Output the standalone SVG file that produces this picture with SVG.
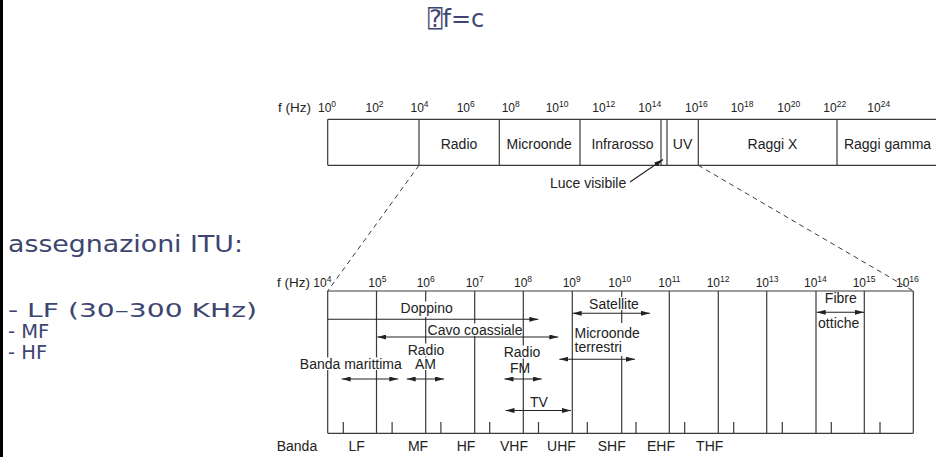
<svg xmlns="http://www.w3.org/2000/svg" width="936" height="457" viewBox="0 0 936 457">
<style>
.ln{stroke:#3a3a3a;stroke-width:1.2;fill:none}
.ds{stroke:#3a3a3a;stroke-width:1;fill:none;stroke-dasharray:5 4}
.ar{stroke:#222;stroke-width:1.1;fill:none}
.lb{font-family:"Liberation Sans",Arial,sans-serif;font-size:14px;fill:#222}
.ax{font-family:"Liberation Sans",Arial,sans-serif;font-size:12px;fill:#222}
.fz{font-family:"Liberation Sans",Arial,sans-serif;font-size:13.5px;fill:#222}
.sp{font-size:8.5px}
.mid{text-anchor:middle}
.bg{fill:#fff}
.sl{font-family:"DejaVu Sans","DejaVu Sans Mono",Verdana,sans-serif;fill:#3d4571}
</style>
<defs>
<marker id="ah" viewBox="0 0 9 5" refX="9" refY="2.5" markerWidth="9" markerHeight="5" orient="auto-start-reverse" markerUnits="userSpaceOnUse"><path d="M0,0 L9,2.5 L0,5 z" fill="#222"/></marker>
</defs>
<rect x="0" y="0" width="3" height="457" fill="#000"/>
<g id="title"><text class="sl" x="428" y="27" font-size="24">⍰f=c</text></g>
<g id="itu-text" class="sl">
<text x="8" y="252" font-size="23" textLength="235" lengthAdjust="spacingAndGlyphs">assegnazioni ITU:</text>
<text x="8" y="316.5" font-size="19.5" textLength="249" lengthAdjust="spacingAndGlyphs">- LF (30–300 KHz)</text>
<text x="8" y="337.5" font-size="19.5">- MF</text>
<text x="8" y="358.5" font-size="19.5">- HF</text>
</g>
<g id="top-spectrum">
<path class="ln" d="M327.7,119.3H936M327.7,165.3H936M327.7,119.3V165.3M419,119.3V165.3M499.3,119.3V165.3M580,119.3V165.3M661,119.3V165.3M667,119.3V165.3M698.3,119.3V165.3M837,119.3V165.3"/>
<text class="fz" x="278" y="112">f (Hz)</text>
<text class="ax" x="318" y="112">10<tspan class="sp" dy="-5">0</tspan></text>
<text class="ax" x="365.5" y="112">10<tspan class="sp" dy="-5">2</tspan></text>
<text class="ax" x="410.5" y="112">10<tspan class="sp" dy="-5">4</tspan></text>
<text class="ax" x="456.7" y="112">10<tspan class="sp" dy="-5">6</tspan></text>
<text class="ax" x="501.7" y="112">10<tspan class="sp" dy="-5">8</tspan></text>
<text class="ax" x="545.7" y="112">10<tspan class="sp" dy="-5">10</tspan></text>
<text class="ax" x="592.3" y="112">10<tspan class="sp" dy="-5">12</tspan></text>
<text class="ax" x="638.3" y="112">10<tspan class="sp" dy="-5">14</tspan></text>
<text class="ax" x="685" y="112">10<tspan class="sp" dy="-5">16</tspan></text>
<text class="ax" x="730.7" y="112">10<tspan class="sp" dy="-5">18</tspan></text>
<text class="ax" x="777.3" y="112">10<tspan class="sp" dy="-5">20</tspan></text>
<text class="ax" x="823.3" y="112">10<tspan class="sp" dy="-5">22</tspan></text>
<text class="ax" x="867.3" y="112">10<tspan class="sp" dy="-5">24</tspan></text>
<text class="lb mid" x="459" y="148.5">Radio</text>
<text class="lb mid" x="539.2" y="148.5">Microonde</text>
<text class="lb mid" x="622.5" y="148.5">Infrarosso</text>
<text class="lb mid" x="682.5" y="148.5">UV</text>
<text class="lb mid" x="772.5" y="148.5">Raggi X</text>
<text class="lb mid" x="887.5" y="148.5">Raggi gamma</text>
<text class="lb" x="550" y="188">Luce visibile</text>
</g>
<g id="bottom-spectrum">
<path class="ln" d="M327.7,291H913.3M327.7,433.3H913.3M327.7,291V433.3M376.5,291V433.3M425.7,291V433.3M474.7,291V433.3M523.3,291V433.3M621.7,291V433.3M669.3,291V433.3M718.3,291V433.3M766.7,291V433.3M816,291V433.3M864.3,291V433.3M913.3,291V433.3"/>
<path class="ln" stroke-width="1.6" d="M572.3,291V433.3"/>
<path class="ln" d="M343.3,422V433.3M392.1,422V433.3M440.9,422V433.3M489.7,422V433.3M538.5,422V433.3M587.3,422V433.3M636,422V433.3M684.7,422V433.3M733.7,422V433.3M782.3,422V433.3M831.3,422V433.3M880,422V433.3"/>
<text class="fz" x="277" y="287">f (Hz)</text>
<text class="ax" x="313.3" y="287">10<tspan class="sp" dy="-5">4</tspan></text>
<text class="ax" x="368.3" y="287">10<tspan class="sp" dy="-5">5</tspan></text>
<text class="ax" x="416.7" y="287">10<tspan class="sp" dy="-5">6</tspan></text>
<text class="ax" x="465.7" y="287">10<tspan class="sp" dy="-5">7</tspan></text>
<text class="ax" x="514" y="287">10<tspan class="sp" dy="-5">8</tspan></text>
<text class="ax" x="562.7" y="287">10<tspan class="sp" dy="-5">9</tspan></text>
<text class="ax" x="608.3" y="287">10<tspan class="sp" dy="-5">10</tspan></text>
<text class="ax" x="658.3" y="287">10<tspan class="sp" dy="-5">11</tspan></text>
<text class="ax" x="706.7" y="287">10<tspan class="sp" dy="-5">12</tspan></text>
<text class="ax" x="755.7" y="287">10<tspan class="sp" dy="-5">13</tspan></text>
<text class="ax" x="804" y="287">10<tspan class="sp" dy="-5">14</tspan></text>
<text class="ax" x="852.7" y="287">10<tspan class="sp" dy="-5">15</tspan></text>
<text class="ax" x="896" y="287">10<tspan class="sp" dy="-5">16</tspan></text>
<rect class="bg" x="399" y="301.5" width="56" height="15.5"/>
<rect class="bg" x="428.5" y="323.5" width="93" height="12.5"/>
<rect class="bg" x="407" y="343.5" width="38" height="13"/>
<rect class="bg" x="414" y="357.5" width="22" height="12.5"/>
<rect class="bg" x="297" y="357.5" width="107" height="12.5"/>
<rect class="bg" x="502" y="345.5" width="41" height="13"/>
<rect class="bg" x="587" y="297" width="54" height="13"/>
<rect class="bg" x="573.5" y="323" width="68" height="33"/>
<text class="lb mid" x="426.7" y="313">Doppino</text>
<text class="lb mid" x="475" y="334.5">Cavo coassiale</text>
<text class="lb mid" x="426" y="354.5">Radio</text>
<text class="lb mid" x="425.5" y="369">AM</text>
<text class="lb mid" x="350.8" y="369">Banda marittima</text>
<text class="lb mid" x="522" y="357">Radio</text>
<text class="lb mid" x="520" y="372.5">FM</text>
<text class="lb mid" x="539" y="406.5">TV</text>
<text class="lb mid" x="614" y="308.5">Satellite</text>
<text class="lb" x="574.5" y="337.8" font-size="13.5">Microonde</text>
<text class="lb" x="574.5" y="352" font-size="13.5">terrestri</text>
<text class="lb mid" x="840.8" y="303">Fibre</text>
<text class="lb mid" x="838.7" y="328">ottiche</text>
<text class="lb" x="276.7" y="450.5">Banda</text>
<text class="lb mid" x="356.7" y="450.5">LF</text>
<text class="lb mid" x="418" y="450.5">MF</text>
<text class="lb mid" x="466" y="450.5">HF</text>
<text class="lb mid" x="514" y="450.5">VHF</text>
<text class="lb mid" x="561.5" y="450.5">UHF</text>
<text class="lb mid" x="611.7" y="450.5">SHF</text>
<text class="lb mid" x="661" y="450.5">EHF</text>
<text class="lb mid" x="709.7" y="450.5">THF</text>
</g>
<g id="connectors">
<path class="ds" d="M419,165.3L327.7,291"/>
<path class="ds" d="M698.3,165.3L913.3,291"/>
<path class="ar" marker-end="url(#ah)" d="M630,182L663,159.5"/>
<path class="ar" marker-end="url(#ah)" d="M327.7,319.3H538.3"/>
<path class="ar" marker-start="url(#ah)" marker-end="url(#ah)" d="M377.3,337H558.3"/>
<path class="ar" marker-start="url(#ah)" marker-end="url(#ah)" d="M341.7,379H398.3"/>
<path class="ar" marker-start="url(#ah)" marker-end="url(#ah)" d="M406.7,379H444"/>
<path class="ar" marker-start="url(#ah)" marker-end="url(#ah)" d="M504.5,379H541.7"/>
<path class="ar" marker-start="url(#ah)" marker-end="url(#ah)" d="M505.5,410.5H571"/>
<path class="ar" marker-start="url(#ah)" marker-end="url(#ah)" d="M572.7,313.3H650"/>
<path class="ar" marker-start="url(#ah)" marker-end="url(#ah)" d="M559.3,359.2H635"/>
<path class="ar" marker-start="url(#ah)" marker-end="url(#ah)" d="M816.7,312.3H864"/>
</g>
</svg>
